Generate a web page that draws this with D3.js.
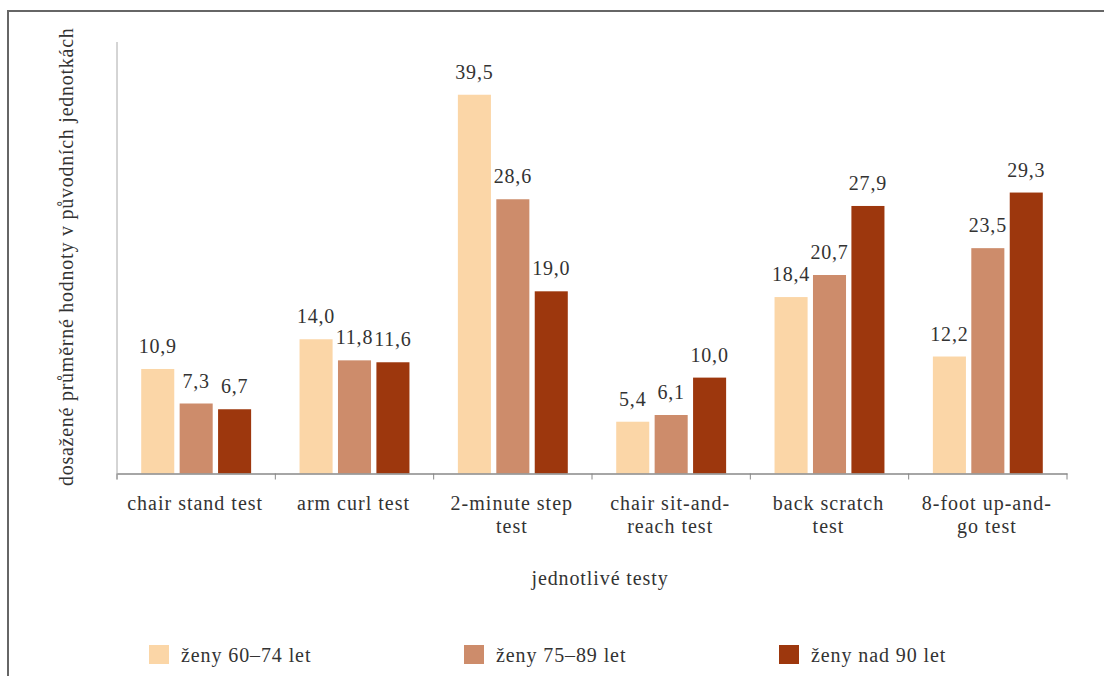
<!DOCTYPE html>
<html>
<head>
<meta charset="utf-8">
<script src="https://cdn.jsdelivr.net/npm/d3@7"></script>
<style>
  html, body { margin: 0; padding: 0; background: #fff; }
  svg { display: block; }
</style>
</head>
<body>
<svg id="chart" width="1104" height="676" font-family="'Liberation Serif', 'DejaVu Serif', serif"></svg>
<script>
// Test names (each entry split into display lines)
const categories = [
  ["chair stand test"],
  ["arm curl test"],
  ["2-minute step", "test"],
  ["chair sit-and-", "reach test"],
  ["back scratch", "test"],
  ["8-foot up-and-", "go test"]
];
const seriesNames = ["ženy 60–74 let", "ženy 75–89 let", "ženy nad 90 let"];
const women60to74 = [10.9, 14.0, 39.5, 5.4, 18.4, 12.2];
const women75to89 = [7.3, 11.8, 28.6, 6.1, 20.7, 23.5];
const womenOver90 = [6.7, 11.6, 19.0, 10.0, 27.9, 29.3];
const colors = ["#fbd6a7", "#cd8c6b", "#9d370d"];
const yMax = 45;
const xTitle = "jednotlivé testy";
const yTitle = "dosažené průměrné hodnoty v původních jednotkách";

const series = [women60to74, women75to89, womenOver90];
const catKeys = categories.map(c => c.join(" "));

const svg = d3.select("#chart");
const fmt = v => d3.format(".1f")(v).replace(".", ",");
const textColor = "#333";

// outer frame (top and left edges)
svg.append("path")
  .attr("d", "M8,676V11H1104")
  .attr("fill", "none")
  .attr("stroke", "#666")
  .attr("stroke-width", 2);

const plotLeft = 117, plotRight = 1067, plotTop = 42, plotBottom = 473.5;

const x0 = d3.scaleBand().domain(catKeys).range([plotLeft, plotRight]).padding(0);
const x1 = d3.scaleBand().domain(d3.range(3)).range([0, x0.bandwidth()])
  .paddingInner(0.14).paddingOuter(0.63);
const y = d3.scaleLinear().domain([0, yMax]).range([plotBottom, plotTop]);

// bars
const groups = svg.append("g").selectAll("g")
  .data(catKeys)
  .join("g")
  .attr("transform", d => `translate(${x0(d)},0)`);

groups.each(function(key, ci) {
  const g = d3.select(this);
  const vals = series.map((s, si) => ({ si, v: s[ci] }));
  g.selectAll("rect")
    .data(vals)
    .join("rect")
    .attr("x", d => x1(d.si))
    .attr("y", d => y(d.v))
    .attr("width", x1.bandwidth())
    .attr("height", d => y(0) - y(d.v))
    .attr("fill", d => colors[d.si]);
  g.selectAll("text.val")
    .data(vals)
    .join("text")
    .attr("class", "val")
    .attr("x", d => x1(d.si) + x1.bandwidth() / 2)
    .attr("y", d => y(d.v) - 16)
    .attr("text-anchor", "middle")
    .attr("font-size", 20)
    .attr("letter-spacing", 0.8)
    .attr("fill", textColor)
    .text(d => fmt(d.v));
});

// y axis (line only)
const yAxis = d3.axisLeft(y).tickValues([]).tickSizeOuter(0);
svg.append("g")
  .attr("transform", `translate(${plotLeft},0)`)
  .call(yAxis)
  .call(g => g.select(".domain").attr("stroke", "#aaa").attr("d", `M0,${plotTop}V${plotBottom + 6}`));

// x axis with ticks at group boundaries
const xAxis = d3.axisBottom(x0).tickSize(0).tickPadding(0).tickSizeOuter(0);
const xg = svg.append("g")
  .attr("transform", `translate(0,${plotBottom})`)
  .call(xAxis)
  .attr("font-family", null)
  .attr("font-size", null);
xg.select(".domain").attr("stroke", "#888").attr("stroke-width", 1.5);
xg.selectAll(".tick text").remove();
const bounds = catKeys.map(k => x0(k)).concat([x0.range()[1]]);
xg.selectAll("line.bound")
  .data(bounds)
  .join("line")
  .attr("class", "bound")
  .attr("x1", d => d).attr("x2", d => d)
  .attr("y1", 0).attr("y2", 6)
  .attr("stroke", "#888");
xg.selectAll(".tick").each(function(k, i) {
  const t = d3.select(this).append("text")
    .attr("text-anchor", "middle")
    .attr("font-size", 20)
    .attr("letter-spacing", 1.0)
    .attr("fill", textColor);
  categories[i].forEach((line, li) => {
    t.append("tspan").attr("x", -1).attr("y", 36.5 + li * 23).text(line);
  });
});

// axis titles
svg.append("text")
  .attr("x", 600)
  .attr("y", 585)
  .attr("text-anchor", "middle")
  .attr("font-size", 20)
  .attr("letter-spacing", 0.9)
  .attr("fill", textColor)
  .text(xTitle);

svg.append("text")
  .attr("transform", `translate(73,${(plotTop + plotBottom) / 2 - 1}) rotate(-90)`)
  .attr("text-anchor", "middle")
  .attr("font-size", 20)
  .attr("letter-spacing", 0.75)
  .attr("fill", textColor)
  .text(yTitle);

// legend
const legendX = [149, 464, 779];
const legend = svg.append("g").selectAll("g")
  .data(seriesNames)
  .join("g")
  .attr("transform", (d, i) => `translate(${legendX[i]},645)`);
legend.append("rect")
  .attr("width", 20).attr("height", 19)
  .attr("fill", (d, i) => colors[i]);
legend.append("text")
  .attr("x", 32).attr("y", 17)
  .attr("font-size", 20)
  .attr("letter-spacing", 0.9)
  .attr("fill", textColor)
  .text(d => d);
</script>
</body>
</html>
